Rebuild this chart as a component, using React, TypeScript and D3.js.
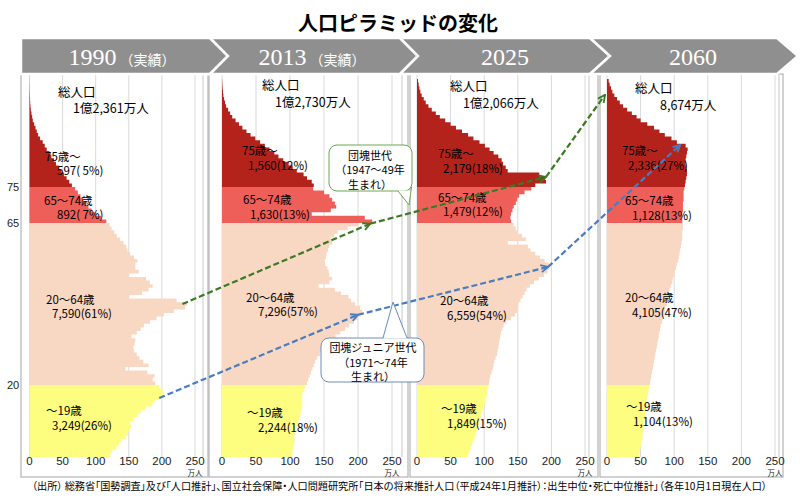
import React from 'react';
import * as d3 from 'd3';

// ---------- DATA (万人, ages 0..104) ----------
const pop1990 = [
  122, 125, 131, 135, 139, 145, 149, 151, 154, 152, 157, 163, 168, 175, 185, 189, 200, 203, 201, 196,
  190, 186, 189, 178, 145, 180, 172, 166, 162, 158, 157, 159, 160, 154, 162, 168, 173, 182, 192, 203,
  218, 235, 238, 222, 150, 170, 180, 186, 182, 176, 150, 165, 160, 160, 163, 158, 152, 148, 146, 142,
  137, 132, 128, 124, 121,
  116, 108, 100, 94, 89, 85, 81, 77, 73, 69,
  64, 60, 56, 52, 48, 44, 40, 37, 33, 30, 26, 23, 20, 16, 13, 11, 9, 7, 5, 4, 3, 2, 1.5, 1, 0.8, 0.6, 0.4, 0.3, 0.2, 0.1,
];

const pop2013 = [
  103, 104, 105, 106, 107, 106, 107, 108, 110, 112, 113, 115, 116, 117, 118, 118, 118, 118, 121, 122,
  125, 127, 129, 131, 133, 135, 137, 140, 144, 148, 151, 156, 162, 167, 174, 181, 187, 194, 200, 204,
  206, 203, 196, 190, 186, 175, 166, 142, 158, 162, 158, 157, 155, 152, 151, 153, 154, 156, 158, 162,
  160, 165, 170, 185, 200,
  221, 210, 132, 160, 168, 166, 162, 158, 150, 134,
  135, 132, 125, 120, 110, 104, 98, 90, 83, 77, 70, 63, 56, 49, 42, 36, 30, 25, 20, 15, 12, 9, 6, 4.5, 3, 2, 1.4, 0.9, 0.5, 0.3,
];

const pop2025 = [
  76, 78, 80, 82, 84, 86, 88, 89, 91, 92, 93, 95, 97, 99, 100, 102, 103, 104, 105, 106,
  107, 108, 109, 111, 113, 114, 115, 117, 119, 120, 121, 122, 123, 124, 125, 127, 129, 133, 140, 146,
  149, 150, 151, 154, 157, 160, 163, 168, 174, 181, 189, 194, 197, 196, 190, 183, 176, 169, 165, 135,
  162, 156, 150, 147, 144,
  140, 139, 140, 142, 144, 147, 149, 152, 160, 170,
  176, 192, 190, 182, 135, 132, 128, 126, 121, 114, 108, 101, 93, 84, 76, 67, 58, 50, 42, 34, 28, 22, 17, 13, 10, 7, 5, 3.5, 2.5, 1.5,
];

const pop2060 = [
  48, 49, 50, 51, 52, 53, 53, 54, 55, 55, 56, 57, 57, 58, 59, 59, 60, 61, 62, 63,
  64, 65, 66, 67, 68, 69, 70, 71, 72, 73, 74, 75, 76, 77, 78, 79, 80, 82, 83, 85,
  86, 87, 89, 90, 91, 92, 93, 95, 97, 98, 100, 101, 103, 104, 106, 107, 108, 109, 110, 111,
  112, 112, 112, 113, 113,
  112, 112, 112, 113, 113, 113, 114, 114, 114, 115,
  116, 117, 118, 119, 119, 118, 117, 117, 118, 119, 120, 117, 104, 96, 86, 78, 70, 60, 50, 44, 37, 30, 24, 19, 15, 11, 8, 6, 4, 2.5,
];

const series = [pop1990, pop2013, pop2025, pop2060];
const years = ['1990', '2013', '2025', '2060'];
const yearNotes = ['（実績）', '（実績）', '', ''];
const totalLabels = ['1億2,361万人', '1億2,730万人', '1億2,066万人', '8,674万人'];
const groupNames = ['75歳～', '65～74歳', '20～64歳', '～19歳'];
const groupValues = [
  ['597( 5%)', '892( 7%)', '7,590(61%)', '3,249(26%)'],
  ['1,560(12%)', '1,630(13%)', '7,296(57%)', '2,244(18%)'],
  ['2,179(18%)', '1,479(12%)', '6,559(54%)', '1,849(15%)'],
  ['2,336(27%)', '1,128(13%)', '4,105(47%)', '1,104(13%)'],
];
// age groups [from, to) with colours
const groupRanges = [[0, 20], [20, 65], [65, 75], [75, 105]];
const groupColors = ['#fdfd80', '#f9d8c3', '#ef5f59', '#b3231b'];
const xTicks = [0, 50, 100, 150, 200, 250];
const ageTicks = [75, 65, 20];

// cohort arrows: [panel, age, value]
const dankaiCohort = [[0, 42.5, 231], [1, 64.8, 218], [2, 77.8, 192], [3, 100.6, -3]];
const dankaiJrCohort = [[0, 16.4, 196], [1, 39.5, 200], [2, 52.8, 195], [3, 86.7, 109]];

const title = '人口ピラミッドの変化';
const source = '（出所） 総務省「国勢調査」及び「人口推計」、国立社会保障・人口問題研究所「日本の将来推計人口（平成24年1月推計）：出生中位・死亡中位推計」（各年10月1日現在人口）';

// ---------- LAYOUT ----------
const W = 800;
const H = 498;
const panels = [
  { x0: 29.5, x250: 195, left: 21, inner: 203, right: 208 },
  { x0: 222, x250: 392, left: 209, inner: 402, right: 408 },
  { x0: 417, x250: 585, left: 410, inner: 589, right: 598 },
  { x0: 607, x250: 775, left: 600, inner: 779, right: 783 },
];
// [nameX, nameY, valueX] ; value baseline = nameY + LINE
const LINE = 14.6;
const labelPos = [
  { tot: [58, 96.5, 73, 113], g: [[45, 160.5, 57], [44, 204.5, 57], [46, 303.5, 52], [46, 415, 52]] },
  { tot: [262, 90, 275, 107], g: [[242, 155, 248], [243, 204, 250], [246, 301.5, 258], [247, 417, 258]] },
  { tot: [450, 91, 463, 108], g: [[438, 158, 443], [438, 201.5, 443], [440, 305, 447], [441, 413, 447]] },
  { tot: [635, 93, 660, 110], g: [[622, 155, 628], [625, 205, 632], [625, 302, 632], [626, 411, 633]] },
];

const yScale = d3.scaleLinear().domain([0, 105]).range([457, 457 - 105 * 3.6]);

const JP = '"Noto Sans CJK JP", "Noto Sans", sans-serif';
const SANS = "'Liberation Sans', Arial, sans-serif";

function chevron(xs: number, xe: number, tipL: number, tipR: number, top: number, bot: number, first: boolean) {
  const mid = (top + bot) / 2;
  const pts = first
    ? [[xs, top], [xe, top], [xe + tipR, mid], [xe, bot], [xs, bot]]
    : [[xs, top], [xe, top], [xe + tipR, mid], [xe, bot], [xs, bot], [xs + tipL, mid]];
  return pts.map((p) => p.join(',')).join(' ');
}

export default function App() {
  const scales = panels.map((p) => d3.scaleLinear().domain([0, 250]).range([p.x0, p.x250]));
  const line = d3.line<number[]>().x((d) => d[0]).y((d) => d[1]);
  const cohortPts = (c: number[][]) => c.map(([pi, age, v]) => [scales[pi](v), yScale(age)]);
  const green = cohortPts(dankaiCohort);
  const blue = cohortPts(dankaiJrCohort);

  const groupArea = (pi: number, gi: number) => {
    const xs = scales[pi];
    const data = series[pi];
    const [a0, a1] = groupRanges[gi];
    const pts = d3.range(a0, a1).map((a) => ({ age: a, v: data[a] }));
    pts.push({ age: a1, v: data[a1 - 1] });
    const area = d3
      .area<{ age: number; v: number }>()
      .y((d) => yScale(d.age))
      .x0(xs(0))
      .x1((d) => xs(d.v))
      .curve(d3.curveStepBefore);
    return area(pts) || '';
  };

  return (
    <svg width={W} height={H} style={{ display: 'block', position: 'absolute', left: 0, top: 0 }}>
      <defs>
        <marker id="ahG" viewBox="0 0 10 10" refX="9" refY="5" markerWidth="9" markerHeight="9" markerUnits="userSpaceOnUse" orient="auto">
          <path d="M1,1 L9,5 L1,9" fill="none" stroke="#3a7a22" strokeWidth="2" />
        </marker>
        <marker id="ahB" viewBox="0 0 10 10" refX="9" refY="5" markerWidth="9" markerHeight="9" markerUnits="userSpaceOnUse" orient="auto">
          <path d="M1,1 L9,5 L1,9" fill="none" stroke="#4a7cc2" strokeWidth="2" />
        </marker>
      </defs>
      <rect x={0} y={0} width={W} height={H} fill="#fff" />

      {/* title */}
      <text x={398} y={31} textAnchor="middle" fontFamily={JP} fontWeight="bold" fontSize={20} fill="#000">{title}</text>

      {/* panels */}
      {panels.map((p, pi) => {
        const xs = scales[pi];
        return (
          <g key={pi}>
            <rect x={p.left} y={74} width={p.right - p.left} height={403} fill="none" stroke="#b5b5b5" strokeWidth={1.2} />
            {xTicks.map((t) => (
              <line key={t} x1={xs(t)} x2={xs(t)} y1={75} y2={457} stroke="#d9d9d9" strokeWidth={1} />
            ))}
            <line x1={p.inner} x2={p.inner} y1={75} y2={457} stroke="#c8c8c8" strokeWidth={1} />
            {groupRanges.map((_, gi) => (
              <path key={gi} d={groupArea(pi, gi)} fill={groupColors[gi]} stroke="none" />
            ))}
            {xTicks.map((t) => (
              <text key={t} x={xs(t)} y={465} textAnchor="middle" fontFamily={SANS} fontSize={11.5} fill="#222">{t}</text>
            ))}
            <text x={xs(250)} y={475.5} textAnchor="middle" fontFamily={JP} fontSize={7.5} fill="#222">万人</text>
            {/* labels */}
            <text x={labelPos[pi].tot[0]} y={labelPos[pi].tot[1]} fontFamily={JP} fontSize={12.5} fill="#000">総人口</text>
            <text x={labelPos[pi].tot[2]} y={labelPos[pi].tot[3]} fontFamily={JP} fontSize={12.5} fill="#000">{totalLabels[pi]}</text>
            {groupNames.map((g, gi) => (
              <g key={gi}>
                <text x={labelPos[pi].g[gi][0]} y={labelPos[pi].g[gi][1]} fontFamily={JP} fontSize={11.5} fill="#000">{g}</text>
                <text x={labelPos[pi].g[gi][2]} y={labelPos[pi].g[gi][1] + LINE} fontFamily={JP} fontSize={11.5} fill="#000">{groupValues[pi][gi]}</text>
              </g>
            ))}
          </g>
        );
      })}

      {/* age axis labels */}
      {ageTicks.map((a) => (
        <text key={a} x={13} y={yScale(a) + 4} textAnchor="middle" fontFamily={SANS} fontSize={11} fill="#222">{a}</text>
      ))}

      {/* header chevrons */}
      <g>
        <polygon points={chevron(21, 210, 0, 18, 38, 74, true)} fill="#8f8f8f" stroke="#fff" strokeWidth={2.5} />
        <polygon points={chevron(210, 400, 18, 18, 38, 74, false)} fill="#8f8f8f" stroke="#fff" strokeWidth={2.5} />
        <polygon points={chevron(400, 590, 18, 20, 38, 74, false)} fill="#8f8f8f" stroke="#fff" strokeWidth={2.5} />
        <polygon points={chevron(590, 777, 20, 21, 38, 74, false)} fill="#8f8f8f" stroke="#fff" strokeWidth={2.5} />
        {years.map((y, i) => {
          const cx = [122, 312, 505, 693][i];
          return (
            <text key={y} x={cx} y={65} textAnchor="middle" fill="#fff" fontFamily="'Liberation Serif', 'DejaVu Serif', serif" fontSize={24}>
              {y}
              {yearNotes[i] && <tspan fontSize={14} fontFamily={JP} dx={3}>{yearNotes[i]}</tspan>}
            </text>
          );
        })}
      </g>

      {/* cohort arrows */}
      {green.slice(1).map((pt, i) => (
        <path key={'g' + i} d={line([green[i], pt]) || ''} fill="none" stroke="#3a7a22" strokeWidth={2.2} strokeDasharray="6,3" markerEnd="url(#ahG)" />
      ))}
      {blue.slice(1).map((pt, i) => (
        <path key={'b' + i} d={line([blue[i], pt]) || ''} fill="none" stroke="#4a7cc2" strokeWidth={2.2} strokeDasharray="6,3" markerEnd="url(#ahB)" />
      ))}

      {/* callouts */}
      <g>
        <rect x={329} y={145} width={83} height={46} rx={8} fill="#fff" stroke="#6aa84f" strokeWidth={1} />
        <polygon points="398,190.5 409,205 411,190.5" fill="#fff" stroke="none" />
        <polyline points="398,191 409,205 411.5,187" fill="none" stroke="#6aa84f" strokeWidth={1} />
        <text x={370} y={159.5} textAnchor="middle" fontFamily={JP} fontSize={11}>団塊世代</text>
        <text x={370} y={174} textAnchor="middle" fontFamily={JP} fontSize={11}>（1947～49年</text>
        <text x={370} y={188.5} textAnchor="middle" fontFamily={JP} fontSize={11}>生まれ）</text>
      </g>
      <g>
        <rect x={321} y={338} width={103} height={44} rx={8} fill="#fff" stroke="#6b8cba" strokeWidth={1} />
        <polygon points="383,338.5 393,302 407,338.5" fill="#fff" stroke="none" />
        <polyline points="383,338 393,302 407,338" fill="none" stroke="#6b8cba" strokeWidth={1} />
        <text x={373} y={352} textAnchor="middle" fontFamily={JP} fontSize={11}>団塊ジュニア世代</text>
        <text x={373} y={366.5} textAnchor="middle" fontFamily={JP} fontSize={11}>（1971～74年</text>
        <text x={373} y={381} textAnchor="middle" fontFamily={JP} fontSize={11}>生まれ）</text>
      </g>

      {/* source */}
      <text x={32} y={490} fontFamily={JP} fontSize={10.5} fill="#000" textLength={735} lengthAdjust="spacingAndGlyphs" style={{ fontFeatureSettings: '"palt"' }}>{source}</text>
    </svg>
  );
}
